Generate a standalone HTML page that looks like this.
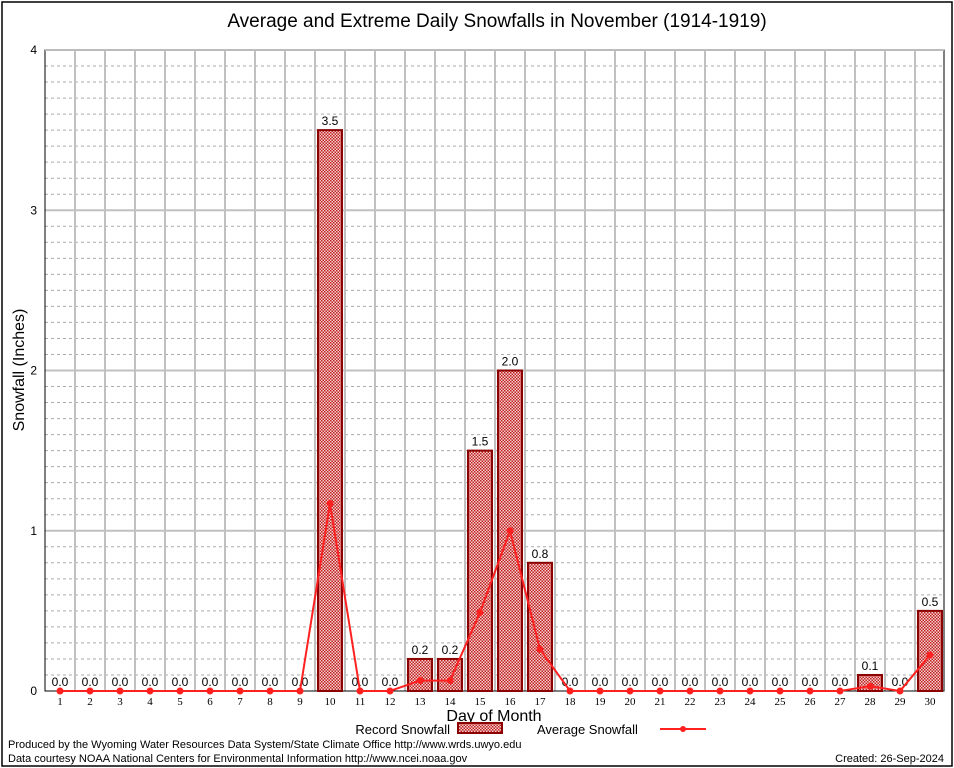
<!DOCTYPE html>
<html><head><meta charset="utf-8"><style>
body{margin:0;background:#fff;}
svg{display:block;font-family:"Liberation Sans",sans-serif;}
</style></head><body>
<svg id="chart" width="954" height="768">
<defs>
<pattern id="chk" width="3" height="3" patternUnits="userSpaceOnUse">
<rect width="3" height="3" fill="#f4d0d0"/>
<rect width="1.5" height="1.5" fill="#c02020"/>
<rect x="1.5" y="1.5" width="1.5" height="1.5" fill="#c02020"/>
</pattern>
</defs>
<rect x="2" y="2" width="950" height="764" fill="none" stroke="#000" stroke-width="1.5"/>
<text x="497" y="27" font-size="19" text-anchor="middle">Average and Extreme Daily Snowfalls in November (1914-1919)</text>
<g id="grid"></g>
<g id="bars"></g>
<g id="line"></g>
<text x="24" y="370" font-size="16" text-anchor="middle" transform="rotate(-90 24 370)">Snowfall (Inches)</text>
<text x="494" y="721" font-size="16" text-anchor="middle">Day of Month</text>
<g>
<text x="450" y="734" font-size="13" text-anchor="end">Record Snowfall</text>
<rect x="458" y="723" width="44" height="10" fill="url(#chk)" stroke="#8b0000" stroke-width="2"/>
<text x="537" y="734" font-size="13">Average Snowfall</text>
<line x1="660" y1="729" x2="706" y2="729" stroke="#ff2020" stroke-width="2"/>
<circle cx="683" cy="729" r="3" fill="#ff2020"/>
</g>
<text x="8" y="748" font-size="11">Produced by the Wyoming Water Resources Data System/State Climate Office http://www.wrds.uwyo.edu</text>
<text x="8" y="762" font-size="11">Data courtesy NOAA National Centers for Environmental Information http://www.ncei.noaa.gov</text>
<text x="944" y="762" font-size="11" text-anchor="end">Created: 26-Sep-2024</text>
</svg>
<script>
const days=[1,2,3,4,5,6,7,8,9,10,11,12,13,14,15,16,17,18,19,20,21,22,23,24,25,26,27,28,29,30];
const record=[0,0,0,0,0,0,0,0,0,3.5,0,0,0.2,0.2,1.5,2.0,0.8,0,0,0,0,0,0,0,0,0,0,0.1,0,0.5];
const average=[0,0,0,0,0,0,0,0,0,1.17,0,0,0.065,0.065,0.49,1.0,0.26,0,0,0,0,0,0,0,0,0,0,0.03,0,0.225];
const yTicks=[0,1,2,3,4];
const NS="http://www.w3.org/2000/svg";
const L=45,R=944,T=50,B=691,yMax=4;
const x=d=>30*d+30;
const y=v=>B-(v/yMax)*(B-T);
function mk(tag,attrs,parent){const e=document.createElementNS(NS,tag);for(const k in attrs)e.setAttribute(k,attrs[k]);parent.appendChild(e);return e;}
const grid=document.getElementById('grid');
for(let i=1;i<yMax*10;i++){if(i%10===0)continue;
const g=mk('line',{x1:L,x2:R,y1:y(i/10),y2:y(i/10),stroke:'#aaa','stroke-dasharray':'3,3'},grid);

}
for(let d=1;d<30;d++){const g=mk('line',{x1:x(d)+15,x2:x(d)+15,y1:T,y2:B,stroke:'#c0c0c0','stroke-width':2},grid);

}
yTicks.forEach(t=>{
if(t>0&&t<yMax){const g=mk('line',{x1:L,x2:R,y1:y(t),y2:y(t),stroke:'#c0c0c0','stroke-width':2},grid);

}
const tx=mk('text',{x:L-8,y:y(t)+4,'font-size':12,'text-anchor':'end'},grid);tx.textContent=t;


});
const frame=mk('rect',{x:L,y:T,width:R-L,height:B-T,fill:'none',stroke:'#000','stroke-width':1},grid);


const topBorder=mk('line',{x1:L,x2:R,y1:T,y2:T,stroke:'#bbb','stroke-width':2},grid);


const bars=document.getElementById('bars');
days.forEach((d,i)=>{
const v=record[i];
if(v>0){const b=mk('rect',{x:x(d)-12,y:y(v),width:24,height:B-y(v),fill:'url(#chk)',stroke:'#8b0000','stroke-width':2},bars);

}
const lb=mk('text',{x:x(d),y:y(v)-5,'font-size':12,'text-anchor':'middle'},bars);lb.textContent=v.toFixed(1);


const tk=mk('text',{x:x(d),y:B+14,'font-size':11,'text-anchor':'middle','font-family':'Liberation Serif, serif'},bars);tk.textContent=d;


});
const lg=document.getElementById('line');
const pl=mk('polyline',{points:days.map((d,i)=>x(d)+','+y(average[i])).join(' '),fill:'none',stroke:'#ff2020','stroke-width':2},lg);


days.forEach((d,i)=>{const c=mk('circle',{cx:x(d),cy:y(average[i]),r:3.5,fill:'#ff2020'},lg);

});
</script>
</body></html>
